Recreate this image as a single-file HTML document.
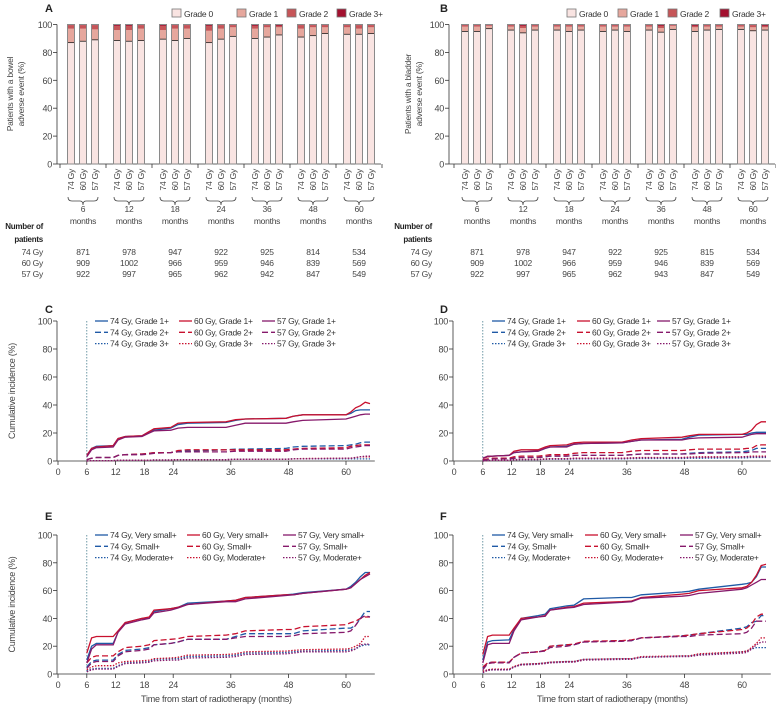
<!DOCTYPE html>
<html><head><meta charset="utf-8"><style>
body{margin:0;background:#fff}
svg{display:block;font-family:"Liberation Sans",sans-serif}
svg text{letter-spacing:-0.25px}
</style></head><body>
<svg id="fig" width="776" height="707" viewBox="0 0 776 707" xmlns="http://www.w3.org/2000/svg"></svg>
<script>
// ---------- Bar chart data (A: bowel, B: bladder) ----------
const timepoints = ["6","12","18","24","36","48","60"];
const doses = ["74 Gy","60 Gy","57 Gy"];
// percentages per bar (7 timepoints x 3 doses, flattened in order)
const bowelGrade0 = [87,88,89, 88.5,88,88.5, 89.5,88.5,90, 87,89.5,91.5, 90,91,92.5, 91,92,93.5, 93,93,93.5];
const bowelGrade1 = [10,9,7.5, 7.5,8,8.5, 6.5,8.5,7, 8.5,7.5,6.5, 7,7,5.5, 6,6,4.5, 5,4,4.5];
const bowelGrade2 = [2.5,2.5,3, 3,3,2.5, 3,2.5,2.5, 3.5,2.5,1.5, 2,1.5,1, 2.5,1.5,1.5, 1.5,2.5,1.5];
const bladderGrade0 = [95,95,97, 96,94,96, 96,95,96, 95,96,95, 96,94.5,96.5, 95,96,96.5, 96.5,95.5,96];
const bladderGrade1 = [3.5,3.5,2, 2.5,3.5,2.5, 2.5,3.5,2.5, 3.5,2.5,3.5, 2.5,3,2.5, 3,2.5,2, 2,2.5,2];
const bladderGrade2 = [1,1,0.5, 1,1.5,1, 1,1,1, 1,1,1, 1,1.5,0.5, 1,1,1, 1,1.5,1];
const patients74 = ["871","978","947","922","925","814","534"];
const patients60 = ["909","1002","966","959","946","839","569"];
const patients57 = ["922","997","965","962","942","847","549"];
const patients74B = ["871","978","947","922","925","815","534"];
const patients60B = ["909","1002","966","959","946","839","569"];
const patients57B = ["922","997","965","962","943","847","549"];
const yTicks = [0,20,40,60,80,100];
const xTicksMonths = [0,6,12,18,24,36,48,60];

// ---------- Cumulative incidence data ----------
const months = [6,7,8,11.5,12.5,14,17.5,19,20,23.5,25,27,35,37,39,47.5,49,51,60,61,62,63,64,65];
// C: bowel grades
const c74g1 = [4,9,10.5,11,16,17.5,18,21,22,23.5,26,27,27.5,29,30,30.5,32,33,33,34,36,36.5,36.5,36.5];
const c60g1 = [4,9,10,11,16,17.5,18,21,23,24,27,27.5,28,29.5,30,30.5,32,33,33,35,38,39.5,42,41];
const c57g1 = [3,8,9.5,10,15,17,17.5,20,21.5,22,23.5,24,24,25.5,27,27,28,29,30,31,32,33,33.5,33.5];
const c74g2 = [1,2,2.5,2.5,4,4.5,5,5.5,6,6,7,7,8,8.5,8.5,9,10,10.5,11,11.5,12,13,13.5,13.5];
const c60g2 = [1,2,2.5,2.5,4,4.5,5,5.5,6,6,7.5,8,8,8,8,8,8.5,9,9.5,10.5,11,11.5,11.5,11.5];
const c57g2 = [1,2,2.5,2.5,4,4.5,4.5,5,5.5,6,6.5,6.5,6.5,7,7,7,8,8.5,8.5,9.5,10,10.5,11,11];
const c74g3 = [0,0.2,0.3,0.3,0.5,0.5,0.5,0.6,0.7,0.7,1,1,1,1.2,1.2,1.3,1.5,1.5,1.5,1.5,1.5,1.5,1.5,1.5];
const c60g3 = [0,0.2,0.3,0.3,0.5,0.5,0.5,0.6,0.7,0.7,1,1,1,1.2,1.2,1.3,1.5,1.8,2,2,2.5,3,3,3];
const c57g3 = [0,0.2,0.3,0.3,0.5,0.5,0.5,0.6,0.7,0.7,1,1,1,1.2,1.2,1.3,1.5,1.5,2,2,2.5,3,3.5,3.5];
// D: bladder grades
const d74g1 = [2,3,3.5,4,6,6.5,7,9,10,10.5,12,12.5,13,14,15,15.5,17,18.5,19,19,20,20.5,20.5,20.5];
const d60g1 = [2,3,3.5,4,7,8,8,10,11,11.5,13,13.5,13.5,15,16,17,18,19,19,20,22,26,28,28];
const d57g1 = [2,3.5,3.5,4,6,6.5,7,9,10,10,12,12.5,13,14,15,15,16,16.5,17,18,19,19.5,19.5,19.5];
const d74g2 = [0.5,1,1.5,1.5,2,2.5,2.5,3,3.5,3.5,4,4,4,4.5,5,5,5.5,6,6.5,7,7.5,9,9,9];
const d60g2 = [1,1.5,2,2,3,3.5,3.5,4,4.5,4.5,5.5,6,6,7,7.5,7.5,8,8.5,8.5,9,9,11,11.5,11.5];
const d57g2 = [0.5,1,1.5,1.5,2,2.5,2.5,3,3.5,3.5,4,4,4,4.5,5,5,5,5.5,6,6,6.5,6.5,6.5,6.5];
const d74g3 = [0,0.3,0.5,0.5,0.8,1,1,1.2,1.3,1.3,1.5,1.5,1.5,1.7,1.8,1.8,2,2,2.2,2.3,2.5,2.5,2.5,2.5];
const d60g3 = [0,0.3,0.5,0.5,1,1.2,1.2,1.5,1.7,1.7,2,2,2,2.3,2.5,2.5,2.8,3,3,3.2,3.5,3.5,3.5,3.5];
const d57g3 = [0,0.3,0.5,0.5,0.8,1,1,1.3,1.5,1.5,1.8,1.8,1.8,2,2.2,2.2,2.5,2.6,2.8,3,3,3,3,3];
// E: bowel patient-reported
const e74vs = [10,20,22,22,30,37,40,40,45,47,48,51,52.5,53,55,57,57.5,58.5,61,63,66,70,73,73];
const e60vs = [15,26,27,27,31,37,40,41,46,47,48,50,52.5,53,55,57,57,58,61,62,65,68,71,73];
const e57vs = [8,18,21,21,30,36,39,40,44,46,47.5,50,52,52,54,56.5,57,58,61,62,65,68,70,72];
const e74s = [5,9,10,10,14,17,18,19,21,22,23,25,25,27,29,29,29,31,33,33,35,40,45,45];
const e60s = [8,12,13,13,16,19,20,21,24,25,25.5,27,28,29,31,32,32,34,35.5,37,38,40,41,41];
const e57s = [4,8,9,9,13,16,17,18,21,22,23,25,25,26,27,27,27.5,29,30,31,35,40,42,41];
const e74m = [2,3.5,4,4,6,8,8.5,9,10.5,11,11,12.5,13,13.5,15,15.5,16,16.5,17,17.5,18,20,21,21];
const e60m = [3,5,6,6,8,9,9.5,10,11,11.5,12,13.5,14,14.5,16,16.5,17,17.5,18,18.5,20,22,27,27];
const e57m = [1.5,3,3.5,3.5,5.5,7.5,8,8.5,9.5,10,10,11.5,12,12.5,14,14.5,15,16,16,16.5,18,21,21.5,21.5];
// F: bladder patient-reported
const f74vs = [10,23,24,24.5,32,40,42,43,47,49,49.5,54,55,55,57,59,59.5,61,64.5,65,66,70,77,77];
const f60vs = [14,27,28,28,33,40,41,42,46,48,48.5,51,52,52.5,55,57.5,58,60,62,63,66,71,78,79];
const f57vs = [8,21,22,22,31,39,41,41.5,46,47.5,48,50,51.5,52,54.5,56,56.5,58,61,62,64,66,68,68];
const f74s = [4,8,8.5,8.5,12,15,16,17,20,21,21,23,24,24,26,27.5,28,29,33,34,37,38,42,42];
const f60s = [5,8,8.5,8.5,12,15,16,17,20,21,21.5,23.5,24,24.5,26,27.5,28,29,32,33,36,41,43,43];
const f57s = [3,7.5,8,8,12,15,16,16.5,19,20,21,23,23.5,24,26,27,27,28,29,30,33,38,38,38];
const f74m = [1,3,3,3,5,7,7.5,8,8.5,9,9,10.5,11,11,12,13,13,14,16,16.5,18,19,19,19];
const f60m = [2,3,3.5,3.5,5.5,7,7.5,8,8.5,9,9,10.5,11,11,12.5,13,13,14.5,16,16.5,19,22,26,26];
const f57m = [1,2.5,3,3,5,6.5,7,7.5,8,8.5,8.5,10,10.5,10.5,12,12.5,12.5,13.5,15,15.5,18,21,23,23];

const NS="http://www.w3.org/2000/svg";
const svg=document.getElementById('fig');
function mk(tag,attrs,parent){const e=document.createElementNS(NS,tag);for(const k in attrs)e.setAttribute(k,attrs[k]);(parent||svg).appendChild(e);return e;}
function txt(x,y,s,opt,parent){opt=opt||{};const t=mk('text',{x:x,y:y,'font-size':opt.size||8.5,fill:opt.fill||'#333','text-anchor':opt.anchor||'start','font-weight':opt.bold?'bold':'normal'},parent);if(opt.rot)t.setAttribute('transform','rotate(-90 '+x+' '+y+')');t.textContent=s;return t;}

const gradeColors=['#f9e4e2','#e6a79d','#c65558','#a3102f'];
const gradeNames=['Grade 0','Grade 1','Grade 2','Grade 3+'];

function barPanel(cfg){
  const g=mk('g',{});
  
  
  const y0=164,y100=24.5;
  const ys=v=>y0-(y0-y100)*v/100;
  const gx=i=>cfg.firstCenter+46*i;
  const bx=(i,j)=>gx(i)+(j-1)*12;
  const ax=mk('g',{},g);
  mk('line',{x1:cfg.axisX,y1:y100,x2:cfg.axisX,y2:y0,stroke:'#333','stroke-width':0.8},ax);
  yTicks.forEach(v=>{mk('line',{x1:cfg.axisX-4,y1:ys(v),x2:cfg.axisX,y2:ys(v),stroke:'#333','stroke-width':0.8},ax);
    const t=txt(cfg.axisX-5,ys(v)+3.5,String(v),{anchor:'end',size:9,fill:'#444'},ax);});
  const xa=mk('g',{},g);
  mk('line',{x1:cfg.axisX,y1:y0,x2:gx(6)+22,y2:y0,stroke:'#333','stroke-width':0.8},xa);
  for(let i=0;i<=7;i++){const x=gx(i)-23;if(x>cfg.axisX)mk('line',{x1:x,y1:y0,x2:x,y2:y0+4,stroke:'#333','stroke-width':0.8},xa);}
  for(let i=0;i<7;i++){for(let j=0;j<3;j++){
    const k=i*3+j;const v0=cfg.g0[k],v1=cfg.g1[k],v2=cfg.g2[k],v3=100-v0-v1-v2;
    const bg=mk('g',{},g);
    let acc=0;[v0,v1,v2,v3].forEach((v,gi)=>{mk('rect',{x:bx(i,j)-3.5,y:ys(acc+v),width:7,height:Math.max(0,ys(acc)-ys(acc+v)),fill:gradeColors[gi]},bg);acc+=v;});
    mk('line',{x1:bx(i,j)-3.5,y1:ys(v0),x2:bx(i,j)+3.5,y2:ys(v0),stroke:'#222','stroke-width':0.8},bg);
    mk('rect',{x:bx(i,j)-3.5,y:ys(100),width:7,height:ys(0)-ys(100),fill:'none',stroke:'#8a8a8a','stroke-width':1},bg);
    const t=txt(bx(i,j)+3,y0+5,doses[j],{anchor:'end',rot:true,size:8.5,fill:'#444'},g);
  }
    const c=gx(i),l=c-15,r=c+15;
    const br=mk('path',{d:`M${l} 197 Q${l} 201 ${l+4} 201 L${c-3} 201 Q${c} 201 ${c} 205 Q${c} 201 ${c+3} 201 L${r-4} 201 Q${r} 201 ${r} 197`,fill:'none',stroke:'#444','stroke-width':0.8},g);
    
    let t=txt(c,212,timepoints[i],{anchor:'middle',fill:'#444'},g);
    t=txt(c,224,'months',{anchor:'middle',fill:'#444'},g);
    [cfg.p74,cfg.p60,cfg.p57].forEach((arr,r2)=>{const tt=txt(c,255+r2*11,arr[i],{anchor:'middle',fill:'#444'},g);});
  }
  let t=txt(cfg.rowX,229,'Number of',{anchor:'end',size:8,bold:true,fill:'#222'},g);
  t=txt(cfg.rowX,242,'patients',{anchor:'end',size:8,bold:true,fill:'#222'},g);
  doses.forEach((d,r2)=>{const tt=txt(cfg.rowX,255+r2*11,d,{anchor:'end',fill:'#444'},g);});
  t=txt(cfg.titleX,94,cfg.yTitle1,{anchor:'middle',rot:true,fill:'#444'},g);
  t=txt(cfg.titleX+11,94,'adverse event (%)',{anchor:'middle',rot:true,fill:'#444'},g);
  t=txt(cfg.letterX,12,cfg.letter,{size:11,bold:true,fill:'#222'},g);
  const lg=mk('g',{},g);
  cfg.legX.forEach((x,i)=>{const eg=mk('g',{},lg);
    mk('rect',{x:x,y:9,width:9,height:8,fill:gradeColors[i],stroke:'#777','stroke-width':0.8},eg);
    txt(x+12,17,gradeNames[i],{fill:'#333'},eg);});
}
barPanel({name:'panel-a-bowel-bars',axisX:57,firstCenter:83,g0:bowelGrade0,g1:bowelGrade1,g2:bowelGrade2,p74:patients74,p60:patients60,p57:patients57,rowX:43,titleX:13,yTitle1:'Patients with a bowel',letter:'A',letterX:45,legX:[172,237,287,337]});
barPanel({name:'panel-b-bladder-bars',axisX:449,firstCenter:477,g0:bladderGrade0,g1:bladderGrade1,g2:bladderGrade2,p74:patients74B,p60:patients60B,p57:patients57B,rowX:432,titleX:411,yTitle1:'Patients with a bladder',letter:'B',letterX:440,legX:[567,618,668,720]});

const colors={74:'#1f5aa6',60:'#c8102e',57:'#86196b'};
const dashes={solid:'',dash:'6 3',dot:'1.5 1.5'};
function linePanel(cfg){
  const g=mk('g',{});
  
  
  const x0=cfg.x0,pm=4.8;
  const xs=m=>x0+m*pm;
  const ys=v=>cfg.y0-(cfg.y0-cfg.y100)*v/100;
  const ax=mk('g',{},g);
  mk('line',{x1:x0-1,y1:cfg.y100,x2:x0-1,y2:cfg.y0,stroke:'#333','stroke-width':0.8},ax);
  yTicks.forEach(v=>{mk('line',{x1:x0-5,y1:ys(v),x2:x0-1,y2:ys(v),stroke:'#333','stroke-width':0.8},ax);
    const t=txt(x0-6,ys(v)+3.5,String(v),{anchor:'end',size:9,fill:'#444'},ax);});
  const xa=mk('g',{},g);
  mk('line',{x1:x0-1,y1:cfg.y0,x2:xs(66),y2:cfg.y0,stroke:'#333','stroke-width':0.8},xa);
  xTicksMonths.forEach(m=>{mk('line',{x1:xs(m),y1:cfg.y0,x2:xs(m),y2:cfg.y0+4,stroke:'#333','stroke-width':0.8},xa);
    const t=txt(xs(m),cfg.y0+14,String(m),{anchor:'middle',size:9,fill:'#444'},xa);});
  const vl=mk('line',{x1:xs(6),y1:cfg.y100,x2:xs(6),y2:cfg.y0,stroke:'#4b7f90','stroke-width':0.8,'stroke-dasharray':'1.5 1.5'},g);
  
  let t;
  if(cfg.yTitle){t=txt(cfg.titleX,(cfg.y0+cfg.y100)/2,'Cumulative incidence (%)',{anchor:'middle',rot:true,size:9,fill:'#444'},g);}
  if(cfg.xTitle){t=txt(xs(33),cfg.y0+28,'Time from start of radiotherapy (months)',{anchor:'middle',size:9,fill:'#444'},g);}
  t=txt(cfg.letterX,cfg.letterY,cfg.letter,{size:11,bold:true,fill:'#222'},g);
  cfg.series.forEach(s=>{
    let d='';months.forEach((m,i)=>{d+=(i?'L':'M')+xs(m).toFixed(1)+' '+ys(s.vals[i]).toFixed(1)+' ';});
    const p=mk('path',{d:d,fill:'none',stroke:colors[s.dose],'stroke-width':1.3,'stroke-dasharray':dashes[s.style]},g);
    
    
  });
  const lg=mk('g',{},g);
  cfg.series.forEach((s,i)=>{const col=Math.floor(i/3),row=i%3;const lx=cfg.legX[col],ly=cfg.y100+row*11.3;
    const eg=mk('g',{},lg);
    mk('line',{x1:lx,y1:ly,x2:lx+13,y2:ly,stroke:colors[s.dose],'stroke-width':1.3,'stroke-dasharray':dashes[s.style]},eg);
    txt(lx+15,ly+3,s.dose+' Gy, '+s.label,{fill:'#333'},eg);});
}
function gradeSeries(a,b,c,d,e,f,g2,h,k){return [
 {dose:74,style:'solid',label:'Grade 1+',vals:a},{dose:74,style:'dash',label:'Grade 2+',vals:b},{dose:74,style:'dot',label:'Grade 3+',vals:c},
 {dose:60,style:'solid',label:'Grade 1+',vals:d},{dose:60,style:'dash',label:'Grade 2+',vals:e},{dose:60,style:'dot',label:'Grade 3+',vals:f},
 {dose:57,style:'solid',label:'Grade 1+',vals:g2},{dose:57,style:'dash',label:'Grade 2+',vals:h},{dose:57,style:'dot',label:'Grade 3+',vals:k}];}
function sevSeries(a,b,c,d,e,f,g2,h,k){return [
 {dose:74,style:'solid',label:'Very small+',vals:a},{dose:74,style:'dash',label:'Small+',vals:b},{dose:74,style:'dot',label:'Moderate+',vals:c},
 {dose:60,style:'solid',label:'Very small+',vals:d},{dose:60,style:'dash',label:'Small+',vals:e},{dose:60,style:'dot',label:'Moderate+',vals:f},
 {dose:57,style:'solid',label:'Very small+',vals:g2},{dose:57,style:'dash',label:'Small+',vals:h},{dose:57,style:'dot',label:'Moderate+',vals:k}];}
linePanel({name:'panel-c-bowel-grade-incidence',x0:58,y0:461,y100:321,yTitle:true,titleX:15,letter:'C',letterX:45,letterY:313,legX:[95,179,262],
  series:gradeSeries(c74g1,c74g2,c74g3,c60g1,c60g2,c60g3,c57g1,c57g2,c57g3)});
linePanel({name:'panel-d-bladder-grade-incidence',x0:454,y0:461,y100:321,yTitle:false,letter:'D',letterX:440,letterY:313,legX:[492,577,657],
  series:gradeSeries(d74g1,d74g2,d74g3,d60g1,d60g2,d60g3,d57g1,d57g2,d57g3)});
linePanel({name:'panel-e-bowel-severity-incidence',x0:58,y0:674,y100:535,yTitle:true,titleX:15,xTitle:true,letter:'E',letterX:45,letterY:520,legX:[95,187,283],
  series:sevSeries(e74vs,e74s,e74m,e60vs,e60s,e60m,e57vs,e57s,e57m)});
linePanel({name:'panel-f-bladder-severity-incidence',x0:454,y0:674,y100:535,yTitle:false,xTitle:true,letter:'F',letterX:440,letterY:520,legX:[492,585,680],
  series:sevSeries(f74vs,f74s,f74m,f60vs,f60s,f60m,f57vs,f57s,f57m)});
</script>
</body></html>
